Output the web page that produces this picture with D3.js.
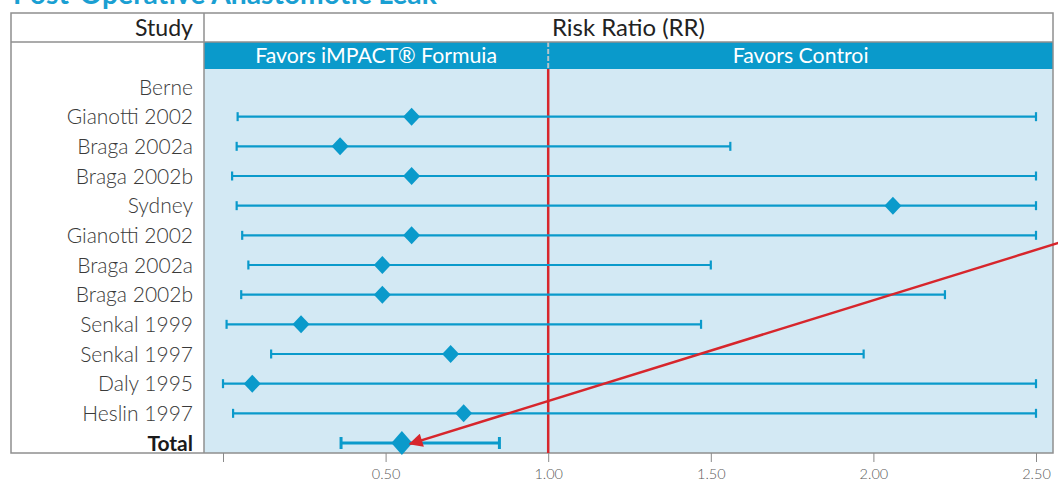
<!DOCTYPE html>
<html><head><meta charset="utf-8">
<script src="https://cdn.jsdelivr.net/npm/d3@7"></script>
<style>
html,body{margin:0;padding:0;background:#fff;}
svg{display:block;font-family:Lato,"Open Sans",sans-serif;}
</style></head>
<body>
<svg id="chart" width="1058" height="485"></svg>
<script>
const titleText = "Post-Operative Anastomotic Leak";
const studies = ["Berne","Gianotti 2002","Braga 2002a","Braga 2002b","Sydney","Gianotti 2002","Braga 2002a","Braga 2002b","Senkal 1999","Senkal 1997","Daly 1995","Heslin 1997","Total"];
const rr    = [null,0.58,0.36,0.58,2.06,0.58,0.49,0.49,0.24,0.70,0.09,0.74,0.55];
const lower = [null,0.045,0.042,0.028,0.042,0.059,0.078,0.056,0.011,0.148,0.0,0.031,0.363];
const upper = [null,2.5,1.56,2.5,2.5,2.5,1.50,2.22,1.47,1.97,2.5,2.5,0.85];
const tickValues = [0,0.5,1,1.5,2,2.5];
const tickLabels = ["","0.50","1.00","1.50","2.00","2.50"];
const headerStudy = "Study";
const headerRR = "Risk Ratio (RR)";
const favorsLeft = "Favors iMPACT\u00AE Formuia";
const favorsRight = "Favors Controi";
const nullValue = 1.0;
// annotation arrow (data units: rr value, row index)
const arrowFrom = [2.60, 5.15];
const arrowTo = [0.575, 12.03];

const svg = d3.select("#chart");
const BLUE = "#0a9acb", LIGHT = "#d3e9f4", RED = "#d7262c", BORDER = "#8f8f8f";
const tableL = 11, tableR = 1053, tableT = 13, headY = 42, bandY = 69, bottom = 453, divX = 204;

const x = d3.scaleLinear().domain([0, 2.5]).range([223, 1036]);
const y = d3.scalePoint().domain(d3.range(studies.length)).range([87, 443]);
const yRow = d3.scaleLinear().domain([0, studies.length - 1]).range([87, 443]);

function fitText(sel, size, target) {
  sel.attr("font-size", size);
  const w = sel.node().getComputedTextLength();
  sel.attr("font-size", size * target / w);
}

// title (cut off at top, as in the reference)
const title = svg.append("text").attr("x", 13).attr("y", 4)
  .attr("fill", "#1a9fd2").attr("font-weight", 700).text(titleText);
fitText(title, 24, 424);

// background areas
svg.append("rect").attr("x", divX).attr("y", bandY).attr("width", tableR - divX).attr("height", bottom - bandY).attr("fill", LIGHT);
svg.append("rect").attr("x", divX).attr("y", headY).attr("width", tableR - divX).attr("height", bandY - headY).attr("fill", BLUE);

// band divider
svg.append("line").attr("x1", x(nullValue)).attr("x2", x(nullValue)).attr("y1", headY).attr("y2", bandY)
  .attr("stroke", "#b8c4c9").attr("stroke-width", 2).attr("stroke-dasharray", "5,2");

// band texts
const fl = svg.append("text").attr("x", (divX + x(nullValue)) / 2).attr("y", 63).attr("text-anchor", "middle")
  .attr("fill", "#fff").text(favorsLeft);
fitText(fl, 17, 242);
const fr = svg.append("text").attr("x", (x(nullValue) + tableR) / 2).attr("y", 63).attr("text-anchor", "middle")
  .attr("fill", "#fff").text(favorsRight);
fr.attr("font-size", fl.attr("font-size"));

// header texts
const hs = svg.append("text").attr("x", 193).attr("y", 36).attr("text-anchor", "end").attr("fill", "#222")
  .text(headerStudy);
fitText(hs, 21, 58);
const hr = svg.append("text").attr("x", (divX + tableR) / 2).attr("y", 36).attr("text-anchor", "middle").attr("fill", "#222")
  .text(headerRR);
fitText(hr, 21, 153);

// table borders
const g = svg.append("g").attr("stroke", BORDER).attr("stroke-width", 1.5).attr("fill", "none");
g.append("rect").attr("x", tableL).attr("y", tableT).attr("width", tableR - tableL).attr("height", bottom - tableT);
g.append("line").attr("x1", tableL).attr("x2", tableR).attr("y1", headY).attr("y2", headY);
g.append("line").attr("x1", divX).attr("x2", divX).attr("y1", tableT).attr("y2", bottom);

// null line
svg.append("line").attr("x1", x(nullValue)).attr("x2", x(nullValue)).attr("y1", bandY).attr("y2", bottom)
  .attr("stroke", RED).attr("stroke-width", 2.5);

// row labels
svg.append("g").selectAll("text").data(studies).join("text")
  .attr("x", 193).attr("y", (d, i) => y(i)).attr("dy", "0.36em").attr("text-anchor", "end")
  .attr("font-size", 21)
  .attr("font-weight", (d, i) => i === studies.length - 1 ? 700 : 300)
  .attr("fill", (d, i) => i === studies.length - 1 ? "#1a1a1a" : "#3a3a3a")
  .text(d => d);

// CIs
const idx = d3.range(studies.length).filter(i => rr[i] !== null);
const isTotal = i => i === studies.length - 1;
const ci = svg.append("g").attr("stroke", BLUE);
ci.selectAll("line.ci").data(idx).join("line").attr("class", "ci")
  .attr("x1", i => x(lower[i])).attr("x2", i => x(upper[i]))
  .attr("y1", i => y(i)).attr("y2", i => y(i))
  .attr("stroke-width", i => isTotal(i) ? 3 : 2.2);
ci.selectAll("line.capl").data(idx).join("line").attr("class", "capl")
  .attr("x1", i => x(lower[i])).attr("x2", i => x(lower[i]))
  .attr("y1", i => y(i) - (isTotal(i) ? 6 : 4.5)).attr("y2", i => y(i) + (isTotal(i) ? 6 : 4.5))
  .attr("stroke-width", i => isTotal(i) ? 3 : 2.2);
ci.selectAll("line.capu").data(idx).join("line").attr("class", "capu")
  .attr("x1", i => x(upper[i])).attr("x2", i => x(upper[i]))
  .attr("y1", i => y(i) - (isTotal(i) ? 6 : 4.5)).attr("y2", i => y(i) + (isTotal(i) ? 6 : 4.5))
  .attr("stroke-width", i => isTotal(i) ? 3 : 2.2);

// diamonds
svg.append("g").selectAll("path").data(idx).join("path")
  .attr("transform", i => `translate(${x(rr[i])},${y(i)})`)
  .attr("d", i => { const w = isTotal(i) ? 10.5 : 8.5, h = isTotal(i) ? 12 : 9; return `M0,${-h}L${w},0L0,${h}L${-w},0Z`; })
  .attr("fill", BLUE);

// x axis
const axis = svg.append("g").attr("transform", `translate(0,${bottom})`)
  .call(d3.axisBottom(x).tickValues(tickValues).tickFormat((d, i) => tickLabels[i]).tickSize(9).tickPadding(7));
axis.select(".domain").remove();
axis.selectAll(".tick line").attr("stroke", "#8a8a8a");
axis.selectAll(".tick text").attr("fill", "#5a5a5a").attr("font-size", 14.5).attr("font-weight", 300)
  .attr("font-family", "Lato, sans-serif");

// arrow annotation
const defs = svg.append("defs");
defs.append("marker").attr("id", "ah").attr("viewBox", "0 0 10 10").attr("refX", 9).attr("refY", 5)
  .attr("markerWidth", 7).attr("markerHeight", 5.5).attr("markerUnits", "strokeWidth").attr("orient", "auto")
  .append("path").attr("d", "M0,0L10,5L0,10Z").attr("fill", RED);
svg.append("line")
  .attr("x1", x(arrowFrom[0])).attr("y1", yRow(arrowFrom[1]))
  .attr("x2", x(arrowTo[0])).attr("y2", yRow(arrowTo[1]))
  .attr("stroke", RED).attr("stroke-width", 2.5).attr("marker-end", "url(#ah)");
</script>
</body></html>
